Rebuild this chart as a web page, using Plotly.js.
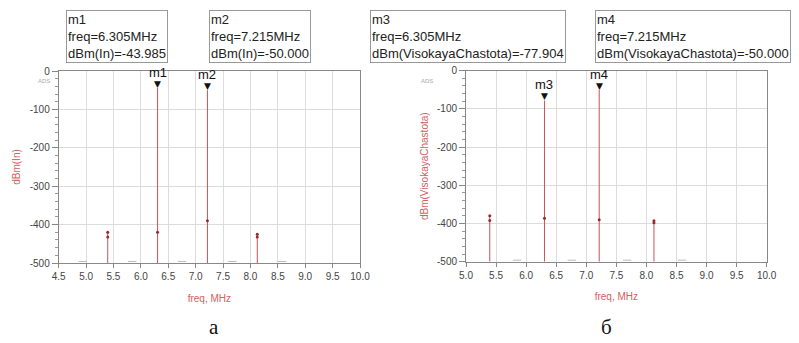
<!DOCTYPE html>
<html><head><meta charset="utf-8">
<script src="https://cdn.plot.ly/plotly-3.0.1.min.js"></script>
<style>html,body{margin:0;padding:0;background:#fff}#c{width:799px;height:343px}</style>
</head><body><div id="c"></div>
<script>
// ---- data ----
const toneFreq = [5.395, 6.305, 7.215, 8.125];          // MHz
const inPeak = [-417, -43.985, -50.0, -422];             // dBm(In)
const vcPeak = [-379, -77.904, -50.0, -393];             // dBm(VisokayaChastota)
const inDotFreq = [5.395, 5.395, 6.305, 7.215, 8.125, 8.125];
const inDotVal  = [-420, -432, -420, -390, -425, -432];
const vcDotFreq = [5.395, 5.395, 6.305, 7.215, 8.125, 8.125];
const vcDotVal  = [-380, -392, -386, -390, -393, -398];
const inFloorFreq = [4.94, 5.84, 6.75, 7.67, 8.58];
const vcFloorFreq = [5.85, 6.76, 7.68, 8.59];
const floorVal = -496;
const baseVal = -500;
const markerNames = ['m1','m2','m3','m4'];
const markerFreq = [6.305, 7.215, 6.305, 7.215];
const markerVal = [-43.985, -50.000, -77.904, -50.000];
const markerVar = ['In','In','VisokayaChastota','VisokayaChastota'];
const xTicksA = [4.5,5.0,5.5,6.0,6.5,7.0,7.5,8.0,8.5,9.0,9.5,10.0];
const xTicksB = [5.0,5.5,6.0,6.5,7.0,7.5,8.0,8.5,9.0,9.5,10.0];
const yTicks = [0,-100,-200,-300,-400,-500];
const yTickText = ['0','-100','-200','-300','-400','-500'];

// ---- helpers ----
function stems(f, p){ const x=[],y=[]; f.forEach((v,i)=>{x.push(v,v,null);y.push(baseVal,p[i],null);}); return {x,y}; }
const W=799,H=343;
const px=(a,b)=>[a/W,b/W], py=(top,bot)=>[(H-bot)/H,(H-top)/H];
const red='#c65454', lbl='#d46060';
const sA=stems(toneFreq,inPeak), sB=stems(toneFreq,vcPeak);
const traces=[
 {x:sA.x,y:sA.y,mode:'lines',line:{color:red,width:1},xaxis:'x',yaxis:'y',hoverinfo:'skip'},
 {x:inDotFreq,y:inDotVal,mode:'markers',marker:{color:'#9a2a2a',size:3},xaxis:'x',yaxis:'y'},
 {x:inFloorFreq,y:inFloorFreq.map(()=>floorVal),mode:'markers',marker:{symbol:'line-ew',size:6,line:{color:'#bbb',width:1}},xaxis:'x',yaxis:'y'},
 {x:sB.x,y:sB.y,mode:'lines',line:{color:red,width:1},xaxis:'x2',yaxis:'y2',hoverinfo:'skip'},
 {x:vcDotFreq,y:vcDotVal,mode:'markers',marker:{color:'#9a2a2a',size:3},xaxis:'x2',yaxis:'y2'},
 {x:vcFloorFreq,y:vcFloorFreq.map(()=>floorVal),mode:'markers',marker:{symbol:'line-ew',size:6,line:{color:'#bbb',width:1}},xaxis:'x2',yaxis:'y2'}
];
const font='Liberation Sans, Arial, sans-serif';
function xax(dom,rng,ticks){return {domain:dom,range:rng,tickvals:ticks,ticktext:ticks.map(v=>v.toFixed(1)),showgrid:true,gridcolor:'#dcdcdc',gridwidth:1,
  showline:true,linecolor:'#888',mirror:true,ticks:'outside',ticklen:4,tickcolor:'#888',zeroline:false,
  tickfont:{family:font,size:10,color:'#444'},title:{text:'freq, MHz',font:{family:font,size:10,color:lbl},standoff:13}};}
function yax(dom,title,anchor,so){return {domain:dom,range:[-500,0],tickvals:yTicks,ticktext:yTickText,showgrid:true,gridcolor:'#dcdcdc',
  showline:true,linecolor:'#888',mirror:true,ticks:'outside',ticklen:6,tickcolor:'#888',zeroline:false,anchor:anchor,
  minor:{dtick:20,ticks:'outside',ticklen:3,tickcolor:'#999',showgrid:false},
  tickfont:{family:font,size:10,color:'#444'},title:{text:title,font:{family:font,size:10,color:lbl},standoff:so}};}
const annotations=[];
const boxX=[[66,172],[209,312],[370,576],[595,789]];
markerNames.forEach((m,i)=>{
  const xa=i<2?'x':'x2', ya=i<2?'y':'y2';
  annotations.push({x:markerFreq[i],y:markerVal[i],xref:xa,yref:ya,text:'▼',showarrow:false,yanchor:'bottom',yshift:-3,font:{family:'DejaVu Sans',size:9,color:'#111'}});
  annotations.push({x:markerFreq[i],y:markerVal[i],xref:xa,yref:ya,text:m,showarrow:false,yanchor:'bottom',yshift:6,font:{family:font,size:13,color:'#111'}});
  annotations.push({x:boxX[i][0]/W,y:1-10/H,xref:'paper',yref:'paper',xanchor:'left',yanchor:'top',align:'left',showarrow:false,
    text:m+'<br>freq='+markerFreq[i].toFixed(3)+'MHz<br>dBm('+markerVar[i]+')='+markerVal[i].toFixed(3),
    bordercolor:'#999',borderwidth:1,borderpad:1,font:{family:font,size:13,color:'#222'}});
});
annotations.push({x:36/W,y:1-76/H,xref:'paper',yref:'paper',text:'ADS',showarrow:false,font:{family:font,size:6,color:'#aaa'}});
annotations.push({x:427/W,y:1-76/H,xref:'paper',yref:'paper',text:'ADS',showarrow:false,font:{family:font,size:6,color:'#aaa'}});
annotations.push({x:207/W,y:1-327/H,xref:'paper',yref:'paper',yanchor:'middle',text:'а',showarrow:false,font:{family:'Liberation Serif, serif',size:21,color:'#111'}});
annotations.push({x:614/W,y:1-327/H,xref:'paper',yref:'paper',yanchor:'middle',text:'б',showarrow:false,font:{family:'Liberation Serif, serif',size:21,color:'#111'}});
const layout={width:W,height:H,margin:{l:0,r:0,t:0,b:0},showlegend:false,paper_bgcolor:'#fff',plot_bgcolor:'#fff',
  xaxis:Object.assign(xax(px(58.7,360),[4.5,10],xTicksA),{anchor:'y'}),
  yaxis:yax(py(71,263),'dBm(In)','x',7),
  xaxis2:Object.assign(xax(px(466,766.7),[5,10],xTicksB),{anchor:'y2'}),
  yaxis2:yax(py(70.7,261.7),'dBm(VisokayaChastota)','x2',6),
  annotations:annotations};
Plotly.newPlot('c',traces,layout,{staticPlot:true});
</script></body></html>
